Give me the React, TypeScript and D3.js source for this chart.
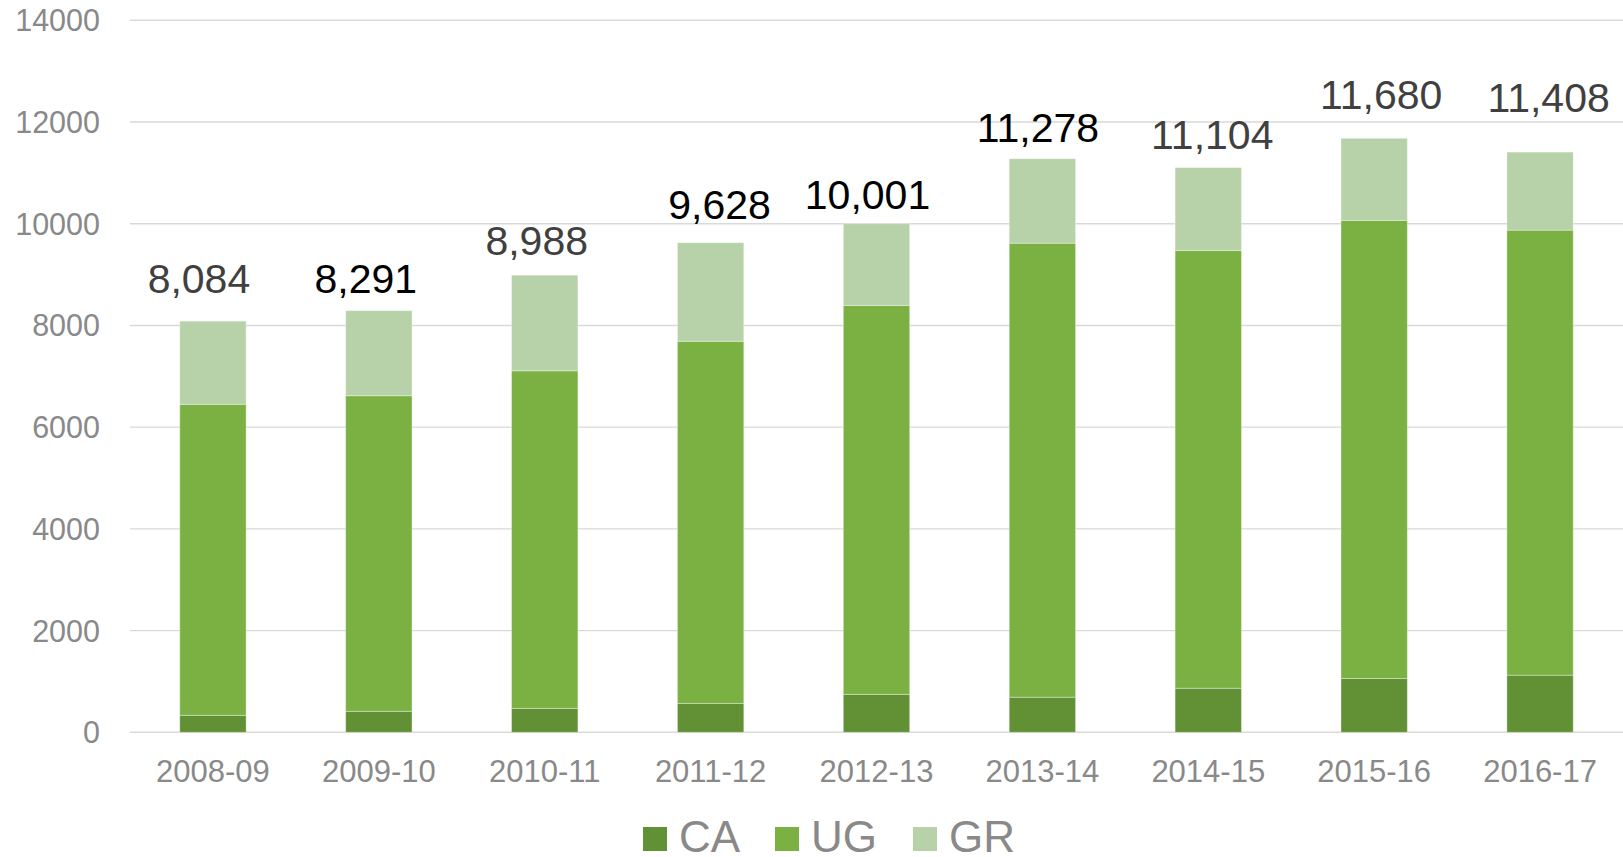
import React from "react";
import * as d3 from "d3";

const categories = ["2008-09", "2009-10", "2010-11", "2011-12", "2012-13", "2013-14", "2014-15", "2015-16", "2016-17"];
const caValues = [334, 413, 470, 569, 746, 690, 866, 1059, 1123];
const ugValues = [6115, 6205, 6638, 7119, 7647, 8927, 8607, 9007, 8751];
const grValues = [1635, 1673, 1880, 1940, 1608, 1661, 1631, 1614, 1534];
const totals = [8084, 8291, 8988, 9628, 10001, 11278, 11104, 11680, 11408];
const totalColors = ["#404040", "#000000", "#404040", "#000000", "#000000", "#000000", "#404040", "#404040", "#404040"];
// manual label placement (px): horizontal shift and lift above bar top
const labelShift = [-14, -13, -8, 9, -9, -4.5, 4, 7, 8.5];
const labelLift = [28, 17.5, 20, 24, 15, 17, 19, 29, 40];
const yTicks = [0, 2000, 4000, 6000, 8000, 10000, 12000, 14000];
const seriesNames = ["CA", "UG", "GR"];
const seriesColors = ["#619035", "#7AB142", "#B7D2A8"];

const W = 1623;
const H = 857;

export default function App() {
  const x = d3.scaleBand<string>().domain(categories).range([130, 1623]).paddingInner(0.6).paddingOuter(0.3);
  const y = d3.scaleLinear().domain([0, 14000]).range([732.3, 20.3]);

  const rows = categories.map((c, i) => ({ cat: c, CA: caValues[i], UG: ugValues[i], GR: grValues[i] }));
  const stack = d3.stack<any>().keys(seriesNames)(rows);

  const legendX = [643, 775, 913];
  const font = "Arial, 'Liberation Sans', sans-serif";

  return (
    <svg width={W} height={H} style={{ position: "absolute", left: 0, top: 0, background: "#fff" }} fontFamily={font}>
      {yTicks.map((t) => (
        <g key={t}>
          <line x1={130} x2={1623} y1={y(t)} y2={y(t)} stroke="#D9D9D9" strokeWidth={1.4} />
          <text x={100} y={y(t)} dy="0.36em" textAnchor="end" fontSize={30.5} fill="#898989">
            {t}
          </text>
        </g>
      ))}
      {stack.map((layer, si) => (
        <g key={seriesNames[si]}>
          {layer.map((d, i) => (
            <rect
              key={i}
              x={x(categories[i])}
              width={x.bandwidth()}
              y={y(d[1])}
              height={y(d[0]) - y(d[1])}
              fill={seriesColors[si]}
              stroke="rgba(255,255,255,0.35)"
              strokeWidth={1}
            />
          ))}
        </g>
      ))}
      {categories.map((c, i) => (
        <text key={c} x={(x(c) as number) + x.bandwidth() / 2} y={782} textAnchor="middle" fontSize={31} fill="#898989">
          {c}
        </text>
      ))}
      {totals.map((t, i) => (
        <text
          key={i}
          x={(x(categories[i]) as number) + x.bandwidth() / 2 + labelShift[i]}
          y={y(t) - labelLift[i]}
          textAnchor="middle"
          fontSize={41}
          fill={totalColors[i]}
        >
          {d3.format(",")(t)}
        </text>
      ))}
      {seriesNames.map((s, i) => (
        <g key={s}>
          <rect x={legendX[i]} y={827} width={24} height={24} fill={seriesColors[i]} />
          <text x={legendX[i] + 36} y={852} fontSize={44} fill="#898989">
            {s}
          </text>
        </g>
      ))}
    </svg>
  );
}
